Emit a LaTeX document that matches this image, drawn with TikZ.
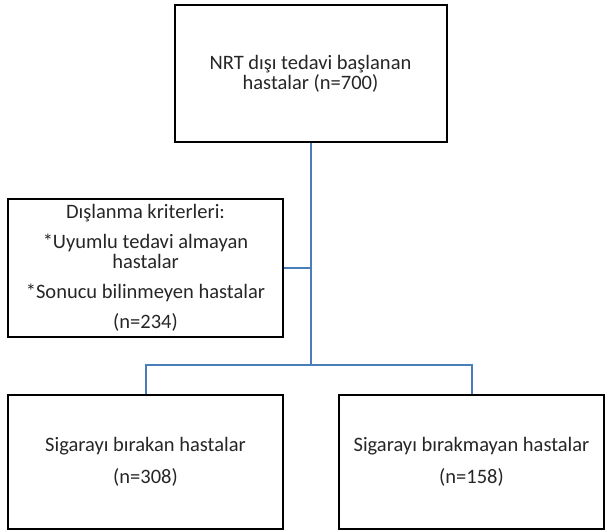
\documentclass[tikz,border=0pt]{standalone}
\usepackage{fontspec}
\setmainfont{Carlito}
\definecolor{conn}{HTML}{4A7EBB}
\begin{document}
\begin{tikzpicture}[x=1pt,y=-1pt,
  box/.style={draw=black,line width=2pt,rectangle,align=center,inner sep=0pt,font=\fontsize{20.5}{20}\selectfont,text=black!85},
  conn/.style={draw=conn,line width=2pt}]
\useasboundingbox (0,0) rectangle (607,531);
\node[box,minimum width=272pt,minimum height=137pt] (top) at (310.5,73.5) {NRT dışı tedavi başlanan\\hastalar (n=700)};
\node[box,minimum width=275pt,minimum height=138pt] (excl) at (145.5,268) {Dışlanma kriterleri:\\[10pt]*Uyumlu tedavi almayan\\hastalar\\[10pt]*Sonucu bilinmeyen hastalar\\[10pt](n=234)};
\node[box,minimum width=275pt,minimum height=134pt] (quit) at (145.5,461.5) {Sigarayı bırakan hastalar\\[12pt](n=308)};
\node[box,minimum width=265pt,minimum height=134pt] (noquit) at (471.5,461.5) {Sigarayı bırakmayan hastalar\\[12pt](n=158)};
\coordinate (j1) at (311,268);
\coordinate (j2) at (311,365);
\draw[conn] (top.south -| j1) -- (j2);
\draw[conn] (excl.east) -- (j1);
\draw[conn] (quit.north) |- (j2) -| (noquit.north);
\end{tikzpicture}
\end{document}
